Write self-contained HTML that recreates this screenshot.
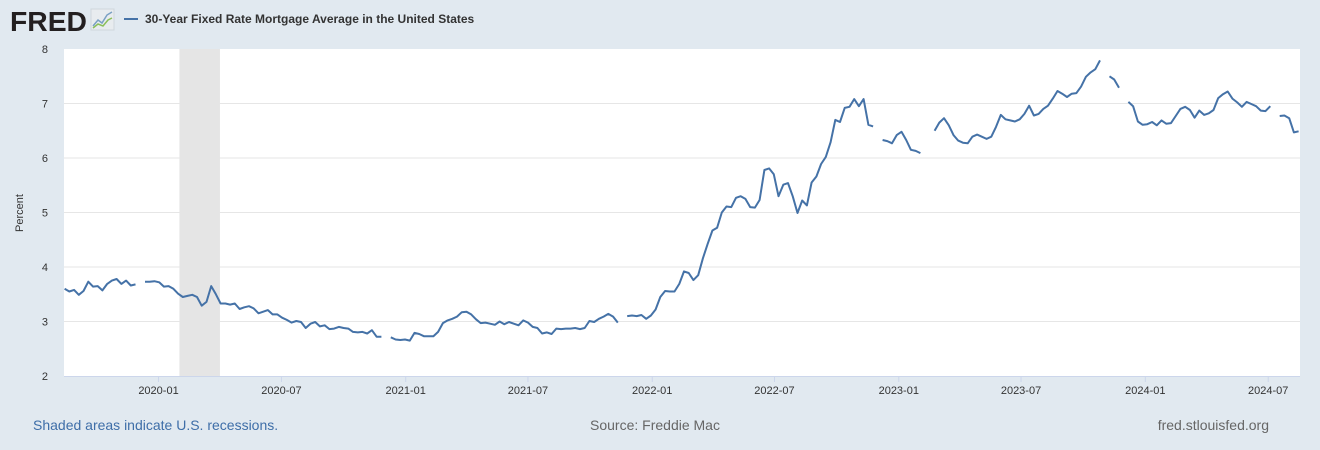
<!DOCTYPE html>
<html><head><meta charset="utf-8"><style>
body{margin:0;background:#e1e9f0;font-family:"Liberation Sans",Arial,sans-serif;}
#wrap{position:relative;width:1320px;height:450px;overflow:hidden;background:#e1e9f0;}
</style></head><body>
<div id="wrap">
<svg id="chart" width="1320" height="450">
  <g>
    <text x="10" y="31" font-size="28" font-weight="bold" fill="#231f20" font-family="Liberation Sans, sans-serif" textLength="77" lengthAdjust="spacingAndGlyphs">FRED</text>
    <rect x="91" y="9" width="23" height="21" fill="#e8ecef" stroke="#cfd6dc"/>
    <polyline points="93,26 98,20 102,23 107,15 112,12" fill="none" stroke="#7aa0c4" stroke-width="1.5"/>
    <polyline points="93,28 98,24 103,26 108,20 112,18" fill="none" stroke="#8bbf5a" stroke-width="1.5"/>
  </g>
  <g>
    <line x1="124" y1="19" x2="138" y2="19" stroke="#4572a7" stroke-width="2"/>
    <text x="145" y="23" font-size="12" font-weight="bold" fill="#333">30-Year Fixed Rate Mortgage Average in the United States</text>
  </g>
  <rect x="64" y="49" width="1236" height="327" fill="#fff"/>
  <g id="grid"></g>
  <g id="rec"></g>
  <g id="yax"></g>
  <g id="xax"></g>
  <g id="series"></g>
  <text transform="translate(23,213) rotate(-90)" text-anchor="middle" font-size="11" fill="#333">Percent</text>
  <text x="33" y="430" font-size="14" fill="#3e6ea8">Shaded areas indicate U.S. recessions.</text>
  <text x="655" y="430" text-anchor="middle" font-size="14" fill="#666">Source: Freddie Mac</text>
  <text x="1269" y="430" text-anchor="end" font-size="14" fill="#666">fred.stlouisfed.org</text>
</svg>
</div>
<script>
const yTicks = [2,3,4,5,6,7,8];
const xTickLabels = ["2020-01","2020-07","2021-01","2021-07","2022-01","2022-07","2023-01","2023-07","2024-01","2024-07"];
const recessionStart = "2020-02-01";
const recessionEnd = "2020-04-01";
const segStarts = ["2019-08-15","2020-01-02","2021-01-07","2022-01-06","2023-01-05","2024-01-04"];
const rates2019 = [3.60,3.55,3.58,3.49,3.56,3.73,3.64,3.65,3.57,3.69,3.75,3.78,3.69,3.75,3.66,3.68,null,3.73,3.73,3.74];
const rates2020 = [3.72,3.64,3.65,3.60,3.51,3.45,3.47,3.49,3.45,3.29,3.36,3.65,3.50,3.33,3.33,3.31,3.33,3.23,3.26,3.28,3.24,3.15,3.18,3.21,3.13,3.13,3.07,3.03,2.98,3.01,2.99,2.88,2.96,2.99,2.91,2.93,2.86,2.87,2.90,2.88,2.87,2.81,2.80,2.81,2.78,2.84,2.72,2.72,null,2.71,2.67,2.66,2.67];
const rates2021 = [2.65,2.79,2.77,2.73,2.73,2.73,2.81,2.97,3.02,3.05,3.09,3.17,3.18,3.13,3.04,2.97,2.98,2.96,2.94,3.00,2.95,2.99,2.96,2.93,3.02,2.98,2.90,2.88,2.78,2.80,2.77,2.87,2.86,2.87,2.87,2.88,2.86,2.88,3.01,2.99,3.05,3.09,3.14,3.09,2.98,null,3.10,3.11,3.10,3.12,3.05,3.11];
const rates2022 = [3.22,3.45,3.56,3.55,3.55,3.69,3.92,3.89,3.76,3.85,4.16,4.42,4.67,4.72,5.00,5.11,5.10,5.27,5.30,5.25,5.10,5.09,5.23,5.78,5.81,5.70,5.30,5.51,5.54,5.30,4.99,5.22,5.13,5.55,5.66,5.89,6.02,6.29,6.70,6.66,6.92,6.94,7.08,6.95,7.08,6.61,6.58,null,6.33,6.31,6.27,6.42];
const rates2023 = [6.48,6.33,6.15,6.13,6.09,null,null,6.50,6.65,6.73,6.60,6.42,6.32,6.28,6.27,6.39,6.43,6.39,6.35,6.39,6.57,6.79,6.71,6.69,6.67,6.71,6.81,6.96,6.78,6.81,6.90,6.96,7.09,7.23,7.18,7.12,7.18,7.19,7.31,7.49,7.57,7.63,7.79,null,7.50,7.44,7.29,null,7.03,6.95,6.67,6.61];
const rates2024 = [6.62,6.66,6.60,6.69,6.63,6.64,6.77,6.90,6.94,6.88,6.74,6.87,6.79,6.82,6.88,7.10,7.17,7.22,7.09,7.02,6.94,7.03,6.99,6.95,6.87,6.86,6.95,null,6.77,6.78,6.73,6.47,6.49];
const segments = [rates2019,rates2020,rates2021,rates2022,rates2023,rates2024];

const NS="http://www.w3.org/2000/svg";
const X0=64,X1=1300,Y0=49,Y1=376;
const t0=Date.UTC(2020,0,1), pxPerDay=246.7/365.25;
function xs(d){return 158.5+(d-t0)/86400000*pxPerDay;}
function parse(s){const p=s.split("-").map(Number);return Date.UTC(p[0],p[1]-1,p[2]||1);}
function ys(v){return Y1-(v-2)/6*(Y1-Y0);}
function mk(tag,attrs,parent){const e=document.createElementNS(NS,tag);for(const k in attrs)e.setAttribute(k,attrs[k]);parent.appendChild(e);return e;}

const grid=document.getElementById("grid"),yax=document.getElementById("yax"),xax=document.getElementById("xax");
yTicks.forEach(v=>{
  if(v>2&&v<8){const l=mk("line",{x1:X0,x2:X1,y1:ys(v),y2:ys(v),stroke:"#e6e6e6"},grid);
  
  }
  const t=mk("text",{x:48,y:ys(v)+4,"text-anchor":"end","font-size":"11",fill:"#333"},yax);
  t.textContent=v;
  
  
});
const rec=mk("rect",{x:xs(parse(recessionStart)),y:Y0,width:xs(parse(recessionEnd))-xs(parse(recessionStart)),height:Y1-Y0,fill:"#e5e5e5"},document.getElementById("rec"));


mk("line",{x1:X0,x2:X1,y1:Y1+0.5,y2:Y1+0.5,stroke:"#ccd6eb"},xax);
xTickLabels.forEach(s=>{
  const x=xs(parse(s));
  mk("line",{x1:x,x2:x,y1:Y1,y2:Y1+6,stroke:"#ccd6eb"},xax);
  const t=mk("text",{x:x,y:Y1+18,"text-anchor":"middle","font-size":"11",fill:"#333"},xax);
  t.textContent=s;
  
  
});
const ser=document.getElementById("series");
let run=[];
function flush(){
  if(run.length>1){const p=mk("polyline",{points:run.join(" "),fill:"none",stroke:"#4572a7","stroke-width":"2","stroke-linejoin":"round"},ser);
  
  }
  run=[];
}
segments.forEach((arr,si)=>{
  const st=parse(segStarts[si]);
  arr.forEach((v,i)=>{
    if(v===null){flush();return;}
    const d=st+i*7*86400000;
    run.push(xs(d).toFixed(1)+","+ys(v).toFixed(1));
  });
});
flush();
</script>
</body></html>
